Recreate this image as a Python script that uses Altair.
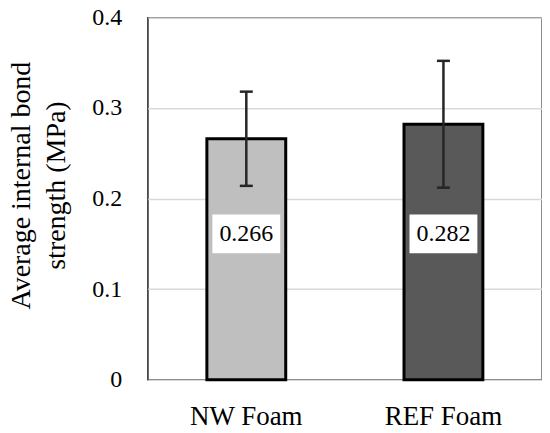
import altair as alt
import pandas as pd

categories = ["NW Foam", "REF Foam"]
means = [0.266, 0.282]
err_low = [0.214, 0.212]
err_high = [0.318, 0.352]
label_pos = [0.161, 0.161]
label_text = ["0.266", "0.282"]
bar_colors = ["#bfbfbf", "#595959"]

df = pd.DataFrame({
    "cat": categories,
    "mean": means,
    "lo": err_low,
    "hi": err_high,
    "lpos": label_pos,
    "ltxt": label_text,
})

FONT = "Liberation Serif"

xenc = alt.X("cat:N", sort=categories,
             scale=alt.Scale(paddingInner=0.6, paddingOuter=0.3),
             axis=alt.Axis(title=None, labelAngle=0, ticks=False, domain=False,
                           labelFontSize=27, labelFont=FONT, labelColor="black",
                           labelPadding=24))
yscale = alt.Scale(domain=[0, 0.4], nice=False)

bars = alt.Chart(df).mark_bar(stroke="black", strokeWidth=3).encode(
    x=xenc,
    y=alt.Y("mean:Q", scale=yscale,
            axis=alt.Axis(values=[0, 0.1, 0.2, 0.3, 0.4], format="~g",
                          ticks=False, domain=False,
                          grid=True, gridColor="#d9d9d9", gridWidth=1.5,
                          labelFontSize=24, labelFont=FONT, labelColor="black",
                          labelPadding=26,
                          title=["Average internal bond", "strength (MPa)"],
                          titleFont=FONT, titleFontSize=28, titleFontWeight="normal",
                          titleColor="black", titleAngle=-90,
                          titleX=-118, titleY=168, titleAlign="center",
                          titleBaseline="alphabetic", titleLineHeight=35)),
    color=alt.Color("cat:N", scale=alt.Scale(domain=categories, range=bar_colors), legend=None),
)

err = alt.Chart(df).mark_rule(color="#262626", strokeWidth=2.5).encode(
    x=alt.X("cat:N", sort=categories),
    y=alt.Y("lo:Q", scale=yscale),
    y2="hi:Q",
)
cap_lo = alt.Chart(df).mark_tick(color="#262626", size=13, thickness=2.5, opacity=1).encode(
    x=alt.X("cat:N", sort=categories),
    y=alt.Y("lo:Q", scale=yscale),
)
cap_hi = alt.Chart(df).mark_tick(color="#262626", size=13, thickness=2.5, opacity=1).encode(
    x=alt.X("cat:N", sort=categories),
    y=alt.Y("hi:Q", scale=yscale),
)
box = alt.Chart(df).mark_tick(color="white", size=68, thickness=39, opacity=1).encode(
    x=alt.X("cat:N", sort=categories),
    y=alt.Y("lpos:Q", scale=yscale),
)
txt = alt.Chart(df).mark_text(font=FONT, fontSize=24, color="black", baseline="middle").encode(
    x=alt.X("cat:N", sort=categories),
    y=alt.Y("lpos:Q", scale=yscale),
    text="ltxt:N",
)

chart = alt.layer(bars, err, cap_lo, cap_hi, box, txt).properties(
    width=395, height=363,
    autosize=alt.AutoSizeParams(type="none"),
    padding={"left": 140, "top": 9, "right": 0, "bottom": 52},
).configure_view(stroke="black", strokeWidth=1.3)

chart.save("out.html", embed_options={"renderer": "svg", "actions": False})
